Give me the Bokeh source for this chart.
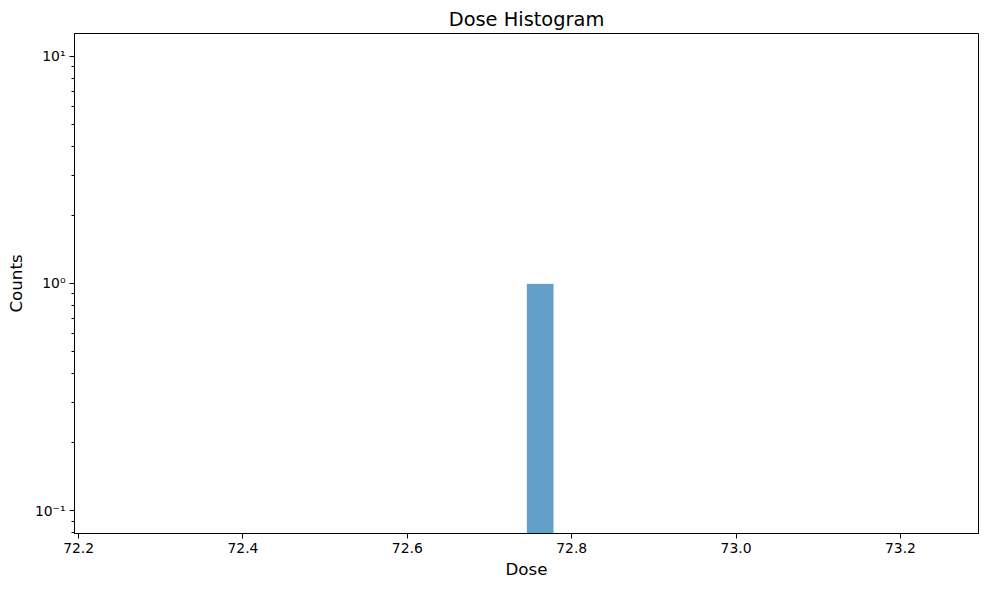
import numpy as np
from bokeh.plotting import figure
from bokeh.models import FixedTicker, Range1d, NumeralTickFormatter
from bokeh.embed import file_html
from bokeh.resources import INLINE

# Data: histogram of dose values (30 bins over [hist_lo, hist_hi])
hist_lo = 72.245
hist_hi = 73.245
n_bins = 30
counts = [0, 0, 0, 0, 0, 0, 0, 0, 0, 0, 0, 0, 0, 0, 0, 1,
          0, 0, 0, 0, 0, 0, 0, 0, 0, 0, 0, 0, 0, 0]
x_ticks = [72.2, 72.4, 72.6, 72.8, 73.0, 73.2]
y_ticks = [0.1, 1, 10]
y_tick_labels = ["10⁻¹", "10⁰", "10¹"]
y_minor = [0.08, 0.09, 0.2, 0.3, 0.4, 0.5, 0.6, 0.7, 0.8, 0.9,
           2, 3, 4, 5, 6, 7, 8, 9]

edges = np.linspace(hist_lo, hist_hi, n_bins + 1)
cnt = np.array(counts, dtype=float)
nz = cnt > 0
left = edges[:-1][nz]
right = edges[1:][nz]
top = cnt[nz]

span = hist_hi - hist_lo
xr = Range1d(hist_lo - 0.05 * span, hist_hi + 0.05 * span)
yr = Range1d(0.0794, 12.59)

FONT = "DejaVu Sans"
p = figure(frame_width=904, frame_height=500, y_axis_type="log", x_range=xr, y_range=yr,
           output_backend="svg", toolbar_location=None, title="Dose Histogram",
           min_border_left=74, min_border_right=1, min_border_top=33,
           min_border_bottom=47)

p.quad(left=left, right=right, top=top, bottom=1e-6,
       fill_color="#1f77b4", fill_alpha=0.7,
       line_color="white", line_alpha=0.7, line_width=1)

p.xgrid.visible = False
p.ygrid.visible = False
p.outline_line_color = "black"
p.outline_line_width = 1
p.outline_line_alpha = 1
p.background_fill_color = "white"
p.border_fill_color = "white"

p.title.align = "center"
p.title.text_font = FONT
p.title.text_font_size = "19.4px"
p.title.text_font_style = "normal"
p.title.text_color = "black"
p.title.standoff = 6
p.title.offset = 0

p.xaxis.ticker = FixedTicker(ticks=x_ticks)
p.xaxis.formatter = NumeralTickFormatter(format="0.0")
p.yaxis.ticker = FixedTicker(ticks=y_ticks, minor_ticks=y_minor)
p.yaxis.major_label_overrides = {t: lab for t, lab in zip(y_ticks, y_tick_labels)}

p.xaxis.axis_label = "Dose"
p.yaxis.axis_label = "Counts"
for ax in (p.xaxis[0], p.yaxis[0]):
    ax.axis_label_text_font = FONT
    ax.axis_label_text_font_size = "16.7px"
    ax.axis_label_text_font_style = "normal"
    ax.axis_label_text_color = "black"
    ax.major_label_text_font = FONT
    ax.major_label_text_font_size = "13.9px"
    ax.major_label_text_color = "black"
    ax.axis_line_color = "black"
    ax.major_tick_line_color = "black"
    ax.minor_tick_line_color = "black"
    ax.major_tick_in = 0
    ax.major_tick_out = 5
    ax.minor_tick_in = 0
    ax.minor_tick_out = 3
    ax.major_label_standoff = 4

p.xaxis.minor_tick_out = 0
p.xaxis.axis_label_standoff = 3
p.yaxis.axis_label_standoff = 6

open("out.html", "w").write(file_html(p, INLINE))
